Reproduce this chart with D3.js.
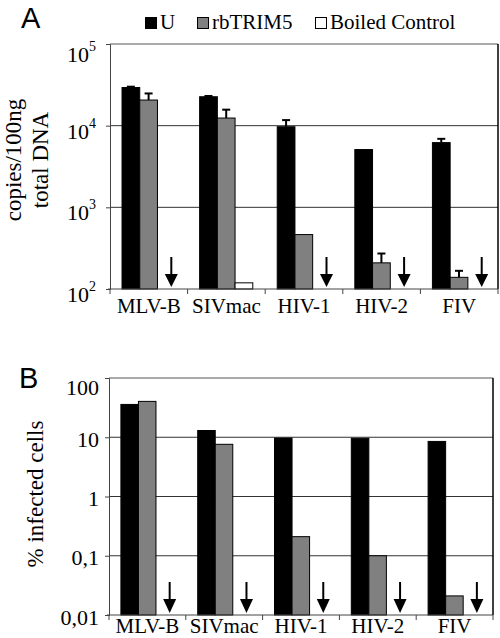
<!DOCTYPE html>
<html>
<head>
<meta charset="utf-8">
<script src="https://cdn.jsdelivr.net/npm/d3@7"></script>
<style>
  html, body { margin: 0; padding: 0; background: #fff; }
  svg { display: block; }
  text { font-family: "Liberation Serif", "Times New Roman", serif; fill: #000; }
</style>
</head>
<body>
<svg id="chart" width="500" height="638"></svg>
<script>
// ---------- data ----------
const categories = ["MLV-B", "SIVmac", "HIV-1", "HIV-2", "FIV"];
const seriesNames = ["U", "rbTRIM5", "Boiled Control"];
const seriesColors = ["#000000", "#808080", "#ffffff"];

// Panel A: copies / 100 ng total DNA
const copiesU        = [29300, 22600, 9700, 5100, 6200];
const copiesUErr     = [30000, 23100, 11700, null, 6900];
const copiesTRIM     = [20600, 12400, 464, 209, 139];
const copiesTRIMErr  = [24800, 15700, null, 272, 167];
const copiesBoiled   = [null, 119, null, null, null];
const copiesTicks    = [100, 1000, 10000, 100000];
const copiesTickExp  = ["2", "3", "4", "5"];

// Panel B: % infected cells
const infectedU      = [35.8, 13, 9.7, 9.6, 8.5];
const infectedTRIM   = [40.3, 7.6, 0.21, 0.1, 0.021];
const infectedBoiled = [null, null, null, null, null];
const infectedTicks  = [0.01, 0.1, 1, 10, 100];
const infectedTickLabels = ["0,01", "0,1", "1", "10", "100"];

// ---------- drawing ----------
const svg = d3.select("#chart");

function drawPanel(cfg) {
  const g = svg.append("g");
  const x = d3.scaleBand().domain(categories).range([cfg.left, cfg.right]);
  const bw = x.bandwidth();
  const xs = d3.scaleBand().domain(seriesNames).range([bw * 0.155, bw * 0.84]);
  const y = d3.scaleLog().domain(cfg.domain).range([cfg.bottom, cfg.top]);

  // gridlines (inner ticks)
  g.selectAll("line.grid")
    .data(cfg.ticks.slice(1, -1))
    .enter().append("line")
    .attr("x1", cfg.left).attr("x2", cfg.right)
    .attr("y1", d => y(d)).attr("y2", d => y(d))
    .attr("stroke", "#333").attr("stroke-width", 1);

  // top border & right border
  g.append("line")
    .attr("x1", cfg.left).attr("x2", cfg.right)
    .attr("y1", y(cfg.domain[1])).attr("y2", y(cfg.domain[1]))
    .attr("stroke", "#555").attr("stroke-width", 1);
  g.append("line")
    .attr("x1", cfg.right).attr("x2", cfg.right)
    .attr("y1", y(cfg.domain[1])).attr("y2", cfg.bottom)
    .attr("stroke", "#000").attr("stroke-width", 1.5);

  // bars
  cfg.values.forEach((vals, si) => {
    g.selectAll(null)
      .data(vals.map((v, i) => ({ v, cat: categories[i] })).filter(d => d.v != null))
      .enter().append("rect")
      .attr("x", d => x(d.cat) + xs(seriesNames[si]))
      .attr("y", d => y(d.v))
      .attr("width", xs.bandwidth())
      .attr("height", d => cfg.bottom - y(d.v))
      .attr("fill", seriesColors[si])
      .attr("stroke", "#000").attr("stroke-width", 1);
  });

  // error bars (upper only)
  cfg.errors.forEach((errs, si) => {
    const vals = cfg.values[si];
    errs.forEach((e, i) => {
      if (e == null) return;
      const cx = x(categories[i]) + xs(seriesNames[si]) + xs.bandwidth() / 2;
      g.append("line")
        .attr("x1", cx).attr("x2", cx)
        .attr("y1", y(vals[i])).attr("y2", y(e))
        .attr("stroke", "#000").attr("stroke-width", 2);
      g.append("line")
        .attr("x1", cx - 4).attr("x2", cx + 4)
        .attr("y1", y(e)).attr("y2", y(e))
        .attr("stroke", "#000").attr("stroke-width", 2);
    });
  });

  // arrows for undetectable boiled controls
  const boiled = cfg.values[2];
  categories.forEach((c, i) => {
    if (boiled[i] != null) return;
    const cx = x(c) + bw * 0.79;
    const tip = cfg.bottom - 2;
    const top = tip - cfg.arrowLen;
    const hh = cfg.headH, hw = 6.5;
    g.append("line")
      .attr("x1", cx).attr("x2", cx)
      .attr("y1", top).attr("y2", tip - hh + 1)
      .attr("stroke", "#000").attr("stroke-width", 2);
    g.append("path")
      .attr("d", `M${cx - hw},${tip - hh} L${cx + hw},${tip - hh} L${cx},${tip} Z`)
      .attr("fill", "#000");
  });

  // y axis
  const yAxis = d3.axisLeft(y).tickValues(cfg.ticks).tickSize(4).tickFormat("");
  const ya = g.append("g").attr("transform", `translate(${cfg.left},0)`).call(yAxis);
  ya.select(".domain").attr("stroke", "#444");
  ya.selectAll(".tick line").attr("stroke", "#444");

  // y tick labels
  cfg.ticks.forEach((t, i) => {
    const off = (i === cfg.ticks.length - 1) ? cfg.topLabelOff : cfg.labelOff;
    const txt = g.append("text")
      .attr("x", cfg.labelX)
      .attr("y", y(t) + off)
      .attr("text-anchor", "end")
      .attr("dominant-baseline", "central")
      .style("font-size", "22px");
    if (cfg.expLabels) {
      txt.append("tspan").text("10");
      txt.append("tspan").text(cfg.expLabels[i])
        .style("font-size", "14px")
        .attr("dy", "-8");
    } else {
      txt.text(cfg.tickLabels[i]);
    }
  });

  // x axis baseline + boundary ticks
  g.append("line")
    .attr("x1", cfg.left - 2).attr("x2", cfg.right)
    .attr("y1", cfg.bottom).attr("y2", cfg.bottom)
    .attr("stroke", "#444").attr("stroke-width", 1);
  const bounds = categories.map(c => x(c)).concat([cfg.right]);
  g.selectAll(null).data(bounds).enter().append("line")
    .attr("x1", d => d).attr("x2", d => d)
    .attr("y1", cfg.bottom).attr("y2", cfg.bottom + 5)
    .attr("stroke", "#444").attr("stroke-width", 1);

  // x labels
  g.selectAll(null).data(categories).enter().append("text")
    .attr("x", d => x(d) + bw / 2)
    .attr("y", cfg.bottom + cfg.xLabelDy)
    .attr("text-anchor", "middle")
    .style("font-size", "21px")
    .text(d => d);

  return { x, y };
}

// Panel A
drawPanel({
  left: 110, right: 498, top: 44, bottom: 289,
  domain: [100, 100000],
  ticks: copiesTicks,
  expLabels: copiesTickExp,
  labelX: 96, labelOff: 5, topLabelOff: 10,
  values: [copiesU, copiesTRIM, copiesBoiled],
  errors: [copiesUErr, copiesTRIMErr, [null, null, null, null, null]],
  arrowLen: 30, headH: 13,
  xLabelDy: 24
});

// Panel B
drawPanel({
  left: 109, right: 493, top: 378, bottom: 615,
  domain: [0.01, 100],
  ticks: infectedTicks,
  tickLabels: infectedTickLabels,
  labelX: 99, labelOff: 2, topLabelOff: 9,
  values: [infectedU, infectedTRIM, infectedBoiled],
  errors: [[null, null, null, null, null], [null, null, null, null, null], [null, null, null, null, null]],
  arrowLen: 31, headH: 14,
  xLabelDy: 18
});

// Panel letters
svg.append("text").attr("x", 21).attr("y", 28)
  .style("font-family", "'Liberation Sans', Arial, sans-serif")
  .style("font-size", "29px").text("A");
svg.append("text").attr("x", 19).attr("y", 388)
  .style("font-family", "'Liberation Sans', Arial, sans-serif")
  .style("font-size", "29px").text("B");

// Y-axis titles
const tA = svg.append("text")
  .attr("transform", "translate(0,160) rotate(-90)")
  .attr("text-anchor", "middle")
  .style("font-size", "23px");
tA.append("tspan").attr("x", 0).attr("y", 21).text("copies/100ng");
tA.append("tspan").attr("x", 0).attr("y", 48).text("total DNA");

svg.append("text")
  .attr("transform", "translate(43,494) rotate(-90)")
  .attr("text-anchor", "middle")
  .style("font-size", "23px")
  .text("% infected cells");

// Legend
const legendX = [145, 197, 315];
const legend = svg.append("g");
seriesNames.forEach((s, i) => {
  legend.append("rect")
    .attr("x", legendX[i] + 0.5).attr("y", 17.5)
    .attr("width", 11).attr("height", 11)
    .attr("fill", seriesColors[i])
    .attr("stroke", "#000").attr("stroke-width", 1);
  legend.append("text")
    .attr("x", legendX[i] + 15).attr("y", 29)
    .style("font-size", "21px")
    .text(s);
});
</script>
</body>
</html>
